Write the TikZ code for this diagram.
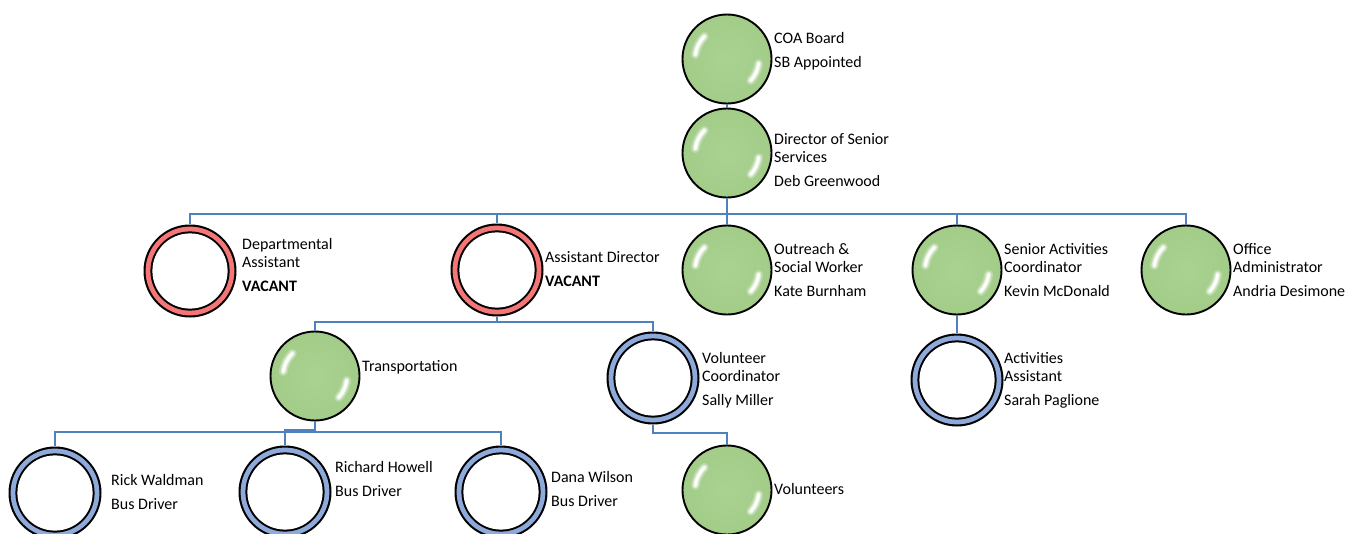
\documentclass[tikz,border=0pt]{standalone}
\usepackage{fontspec}
\setmainfont{Carlito}
\definecolor{conn}{RGB}{79,129,189}
\definecolor{gin}{RGB}{170,210,146}
\definecolor{gout}{RGB}{162,204,136}
\definecolor{ringred}{RGB}{244,118,118}
\definecolor{ringblue}{RGB}{142,170,219}
\newcommand\hlarc[3]{%
  \draw[white,opacity=.25,line width=9pt,line cap=round] ([shift={(#1:#3)}]path picture bounding box.center) arc[start angle=#1,end angle=#2,radius=#3];
  \draw[white,opacity=.5,line width=5.5pt,line cap=round] ([shift={(#1:#3)}]path picture bounding box.center) arc[start angle=#1,end angle=#2,radius=#3];
  \draw[white,opacity=.95,line width=3pt,line cap=round] ([shift={(#1:#3)}]path picture bounding box.center) arc[start angle=#1,end angle=#2,radius=#3];}
\newcommand\tb[1]{\begin{tabular}[t]{@{}l@{}}#1\end{tabular}}
\tikzset{
  greennode/.style={circle, inner sep=0pt, minimum size=89pt, draw=black, line width=1.9pt,
    inner color=gin, outer color=gout,
    path picture={\hlarc{135}{172}{32pt}\hlarc{-8}{-42}{32pt}}},
  ringnode/.style={circle, inner sep=0pt, minimum size=93pt, fill=black,
    path picture={
      \fill[#1] (path picture bounding box.center) circle[radius=44.4pt];
      \fill[black] (path picture bounding box.center) circle[radius=39.6pt];
      \fill[white] (path picture bounding box.center) circle[radius=37.6pt];}},
  lbl/.style={anchor=base west, inner sep=0pt, font=\fontsize{16}{18}\selectfont, text=black},
  conn/.style={draw=conn, line width=2.8pt},
}
\begin{document}
\begin{tikzpicture}[x=1pt,y=-1pt]
\fill[white] (0,0) rectangle (1354,533);
\useasboundingbox (0,0) rectangle (1354,533);
% circles
\node[greennode] (coa) at (727,59) {};
\node[greennode] (dir) at (727,153) {};
\node[ringnode=ringred] (dept) at (190,271) {};
\node[ringnode=ringred] (asst) at (497,270) {};
\node[greennode] (out) at (727,270) {};
\node[greennode] (sac) at (957,270) {};
\node[greennode] (off) at (1186,270) {};
\node[greennode] (trans) at (315,376) {};
\node[ringnode=ringblue] (volc) at (653,378) {};
\node[ringnode=ringblue] (aa) at (957,380) {};
\node[ringnode=ringblue] (rick) at (55,493) {};
\node[ringnode=ringblue] (rich) at (285,492) {};
\node[ringnode=ringblue] (dana) at (501,492) {};
\node[greennode] (vol) at (727,490) {};
% labels
\node[lbl] (coaT) at (774,43.5) {\tb{COA Board\\[6pt]SB Appointed}};
\node[lbl] (dirT) at (774,144.5) {\tb{Director of Senior\\Services\\[6pt]Deb Greenwood}};
\node[lbl] (deptT) at (242,249.5) {\tb{Departmental\\Assistant\\[6pt]\textbf{VACANT}}};
\node[lbl] (asstT) at (545,262.5) {\tb{Assistant Director\\[6pt]\textbf{VACANT}}};
\node[lbl] (outT) at (774,254.5) {\tb{Outreach \&\\Social Worker\\[6pt]Kate Burnham}};
\node[lbl] (sacT) at (1004,254.5) {\tb{Senior Activities\\Coordinator\\[6pt]Kevin McDonald}};
\node[lbl] (offT) at (1233,254.5) {\tb{Office\\Administrator\\[6pt]Andria Desimone}};
\node[lbl] (transT) at (362,371.5) {\tb{Transportation}};
\node[lbl] (volcT) at (702,363.5) {\tb{Volunteer\\Coordinator\\[6pt]Sally Miller}};
\node[lbl] (aaT) at (1004,363.5) {\tb{Activities\\Assistant\\[6pt]Sarah Paglione}};
\node[lbl] (rickT) at (111,485.5) {\tb{Rick Waldman\\[6pt]Bus Driver}};
\node[lbl] (richT) at (335,472.5) {\tb{Richard Howell\\[6pt]Bus Driver}};
\node[lbl] (danaT) at (551,482.5) {\tb{Dana Wilson\\[6pt]Bus Driver}};
\node[lbl] (volT) at (774,494.5) {\tb{Volunteers}};
% connectors
\draw[conn] (coa.south) -- (dir.north);
\foreach \c in {dept,asst,out,sac,off}
  \draw[conn] (dir.south) -- (dir.south |- 0,214) -| (\c.north);
\foreach \c in {trans,volc}
  \draw[conn] (asst.south) -- (asst.south |- 0,322) -| (\c.north);
\foreach \c in {rick,dana}
  \draw[conn] (trans.south) -- (trans.south |- 0,432) -| (\c.north);
\draw[conn] (trans.south) -- (trans.south |- 0,430) -| (rich.north);
\draw[conn] (volc.south) -- (volc.south |- 0,433) -| (vol.north);
\draw[conn] (sac.south) -- (aa.north);
\end{tikzpicture}
\end{document}
